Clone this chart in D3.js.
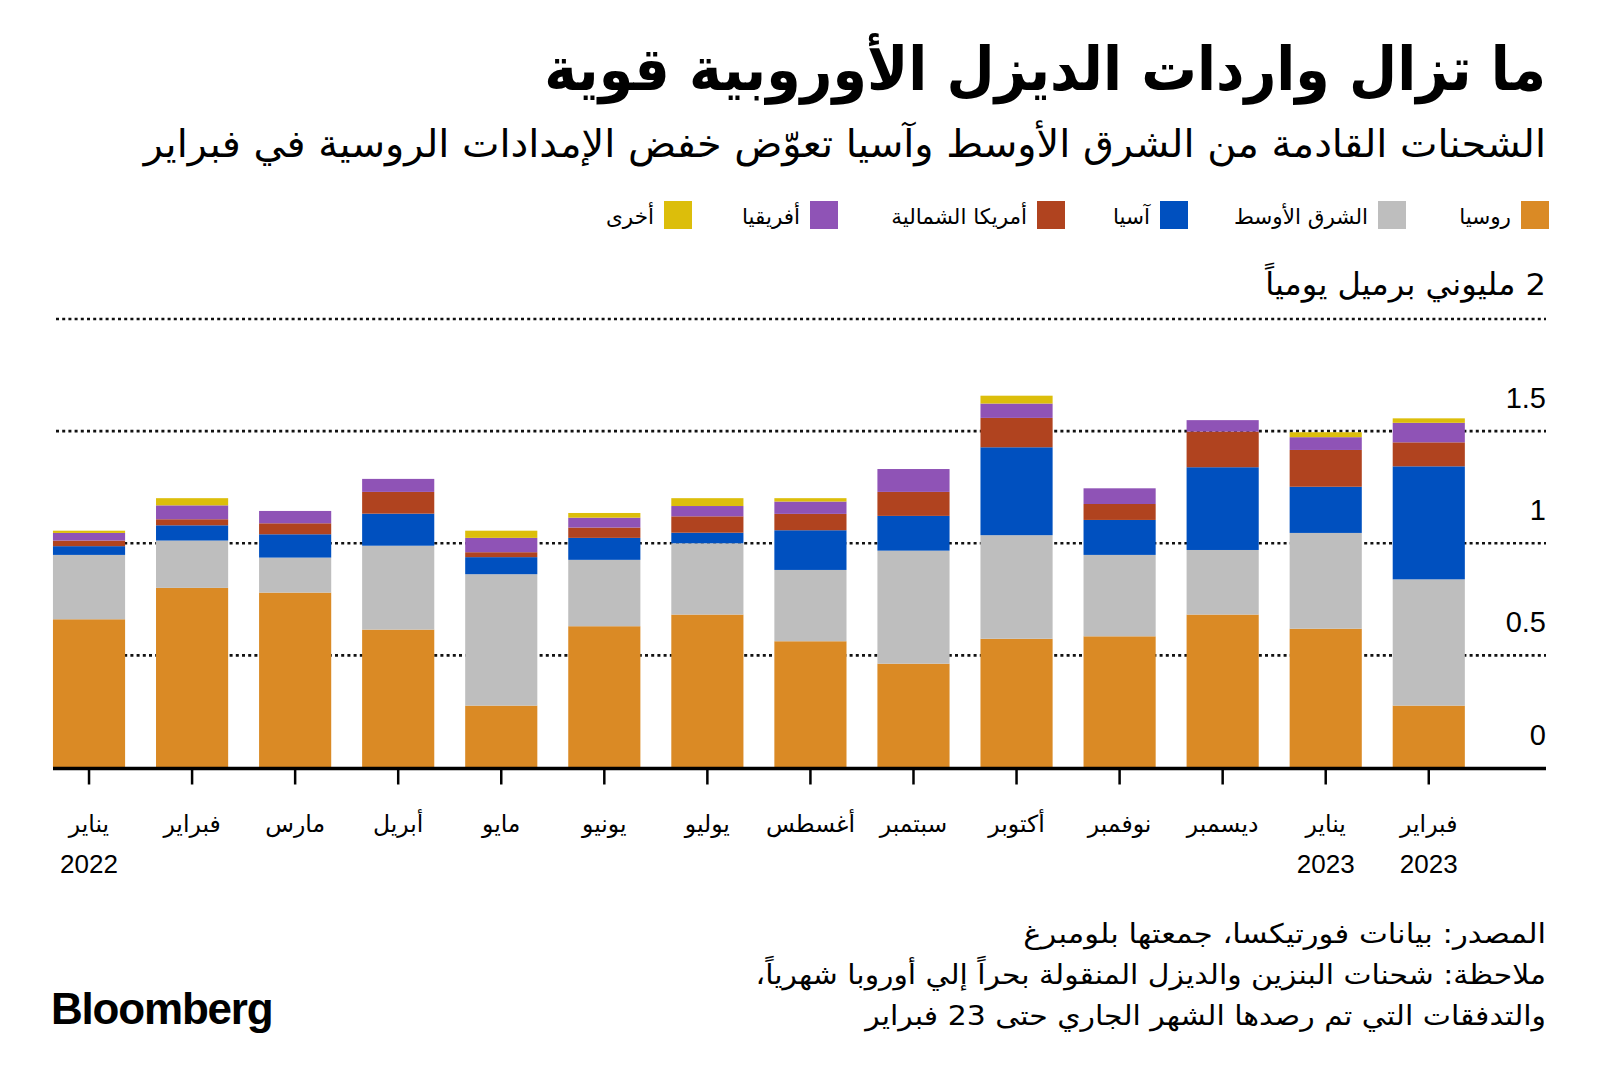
<!DOCTYPE html>
<html><head><meta charset="utf-8">
<script src="https://cdn.jsdelivr.net/npm/d3@7/dist/d3.min.js"></script>
<style>
html,body{margin:0;padding:0;background:#fff;}
svg{display:block;}
</style></head>
<body>
<svg id="chart" width="1600" height="1091"></svg>
<script>
// ---------- DATA ----------
const months = ["يناير","فبراير","مارس","أبريل","مايو","يونيو","يوليو","أغسطس","سبتمبر","أكتوبر","نوفمبر","ديسمبر","يناير","فبراير"];
const years  = ["2022","","","","","","","","","","","","2023","2023"];
const seriesNames = ["روسيا","الشرق الأوسط","آسيا","أمريكا الشمالية","أفريقيا","أخرى"];
const russia      = [0.661,0.801,0.780,0.615,0.276,0.630,0.682,0.563,0.463,0.574,0.585,0.682,0.619,0.276];
const middleEast  = [0.287,0.211,0.156,0.374,0.586,0.296,0.318,0.318,0.504,0.462,0.363,0.288,0.427,0.563];
const asia        = [0.039,0.068,0.104,0.143,0.076,0.098,0.047,0.177,0.155,0.392,0.156,0.369,0.206,0.504];
const northAmerica= [0.025,0.027,0.049,0.097,0.022,0.046,0.073,0.073,0.107,0.131,0.071,0.159,0.164,0.107];
const africa      = [0.034,0.062,0.055,0.058,0.064,0.044,0.046,0.055,0.102,0.064,0.070,0.051,0.057,0.087];
const other       = [0.010,0.032,0.000,0.000,0.032,0.021,0.035,0.015,0.000,0.035,0.000,0.000,0.022,0.020];
const yTicks = [0, 0.5, 1, 1.5, 2];
const yTickLabels = ["0","0.5","1","1.5","2 مليوني برميل يومياً"];

const title = "ما تزال واردات الديزل الأوروبية قوية";
const subtitle = "الشحنات القادمة من الشرق الأوسط وآسيا تعوّض خفض الإمدادات الروسية في فبراير";
const footer = ["المصدر: بيانات فورتيكسا، جمعتها بلومبرغ",
                "ملاحظة: شحنات البنزين والديزل المنقولة بحراً إلي أوروبا شهرياً،",
                "والتدفقات التي تم رصدها الشهر الجاري حتى 23 فبراير"];

// ---------- STYLE ----------
const colors = ["#DA8A25","#BEBEBE","#0050BF","#B0431F","#8F53B6","#DCBE0B"];
const AR = "'DejaVu Sans', 'Noto Sans', sans-serif";
const NUM = "'Liberation Sans', Arial, sans-serif";
const RIGHT = 1546;

const svg = d3.select("#chart");

const keys = seriesNames.map((d,i)=>"s"+i);
const arrays = [russia, middleEast, asia, northAmerica, africa, other];
const table = months.map((m,i)=>{
  const row = {idx:i};
  keys.forEach((k,j)=>row[k]=arrays[j][i]);
  return row;
});
const stacked = d3.stack().keys(keys)(table);

const x = d3.scaleBand().domain(d3.range(months.length)).range([37.5,1480.3]).paddingInner(0.3).paddingOuter(0.15);
const y = d3.scaleLinear().domain([0,2]).range([767.5,319]);

// ---------- TITLES ----------
// right-aligned RTL text, horizontally scaled to a target width
function rtlText(sel, txt, yy, size, weight, len){
  const t = sel.append("text")
    .attr("x", 0).attr("y", 0)
    .attr("direction","rtl").style("direction","rtl")
    .attr("text-anchor","start")
    .attr("font-family", AR).attr("font-size", size).attr("font-weight", weight)
    .attr("fill","#000").text(txt);
  let sx = 1;
  if(len){
    const w = t.node().getComputedTextLength();
    if(w>0) sx = len / w;
  }
  t.attr("transform", `translate(${RIGHT},${yy}) scale(${sx},1)`);
  return t;
}
rtlText(svg, title, 90, 60, "bold", 1002);
rtlText(svg, subtitle, 157, 38, "normal", 1403);

// ---------- LEGEND ----------
const legendSw = [1521, 1378, 1160, 1037, 810, 664];
const legend = svg.append("g");
seriesNames.forEach((name,i)=>{
  legend.append("rect").attr("x", legendSw[i]).attr("y", 201).attr("width", 28).attr("height", 28).attr("fill", colors[i]);
  legend.append("text").attr("x", legendSw[i]-10).attr("y", 224)
    .attr("direction","rtl").style("direction","rtl").attr("text-anchor","start")
    .attr("font-family", AR).attr("font-size", 21.5).attr("fill","#000").text(name);
});

// ---------- GRID ----------
const grid = svg.append("g");
yTicks.filter(v=>v>0).forEach(v=>{
  grid.append("line").attr("x1",56).attr("x2",RIGHT).attr("y1",y(v)).attr("y2",y(v))
    .attr("stroke","#111").attr("stroke-width",2.6).attr("stroke-dasharray","3,3.2");
});

// ---------- BARS ----------
svg.append("g").selectAll("g").data(stacked).join("g")
  .attr("fill",(d,i)=>colors[i])
  .selectAll("rect").data(d=>d).join("rect")
  .attr("x",d=>x(d.data.idx)).attr("width",x.bandwidth())
  .attr("y",d=>y(d[1])).attr("height",d=>Math.max(0,y(d[0])-y(d[1])));

// ---------- Y LABELS ----------
yTicks.forEach((v,i)=>{
  if(i===yTicks.length-1){
    rtlText(svg, yTickLabels[i], y(v)-24, 31, "normal", 281);
  } else {
    svg.append("text").attr("x",RIGHT).attr("y",y(v)-23).attr("text-anchor","end")
      .attr("font-family",NUM).attr("font-size",29).attr("fill","#000").text(yTickLabels[i]);
  }
});

// ---------- X AXIS ----------
const xAxis = d3.axisBottom(x).tickSize(17).tickFormat("");
const gx = svg.append("g").attr("transform",`translate(0,${y(0)})`).call(xAxis);
gx.select(".domain").remove();
gx.selectAll(".tick line").attr("stroke","#000").attr("stroke-width",2.5);
svg.append("line").attr("x1",53).attr("x2",RIGHT).attr("y1",y(0)+1).attr("y2",y(0)+1)
  .attr("stroke","#000").attr("stroke-width",3.5);

months.forEach((m,i)=>{
  svg.append("text").attr("x", x(i)+x.bandwidth()/2).attr("y", 832)
    .attr("text-anchor","middle").attr("font-family",AR).attr("font-size",23.5).attr("fill","#000").text(m);
  if(years[i]){
    svg.append("text").attr("x", x(i)+x.bandwidth()/2).attr("y", 873)
      .attr("text-anchor","middle").attr("font-family",NUM).attr("font-size",26).attr("fill","#000").text(years[i]);
  }
});

// ---------- FOOTER ----------
rtlText(svg, footer[0], 943, 27, "normal", 523);
rtlText(svg, footer[1], 984, 27, "normal", 791);
rtlText(svg, footer[2], 1025, 27, "normal", 681);

svg.append("text").attr("x",51).attr("y",1024).attr("font-family",NUM).attr("font-weight","bold")
  .attr("font-size",44).attr("letter-spacing",-1.2).attr("fill","#000").text("Bloomberg");
</script>
</body></html>
